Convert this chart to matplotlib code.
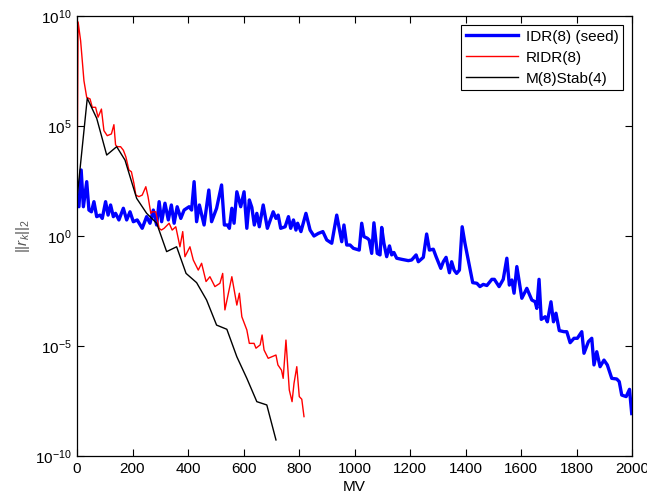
import numpy as np
import matplotlib
matplotlib.use('Agg')
import matplotlib.pyplot as plt
from matplotlib.ticker import FixedLocator, NullLocator, FuncFormatter

plt.rcParams['font.family'] = ['Liberation Sans', 'DejaVu Sans']
plt.rcParams['mathtext.fontset'] = 'custom'
plt.rcParams['mathtext.rm'] = 'Liberation Sans'
plt.rcParams['mathtext.it'] = 'Liberation Sans:italic'

# IDR(8) (seed): MV, log10 ||r_k||_2
idr_mv = [0, 7, 15, 23, 35, 43, 52, 61, 71, 83, 91, 103, 112, 121, 131, 139, 151, 167, 179, 191,
          203, 217, 235, 251, 263, 275, 287, 296, 305, 317, 329, 340, 350, 361, 374, 386, 404, 413,
          422, 431, 441, 458, 475, 485, 503, 521, 531, 542, 549, 558, 566, 576, 590, 602, 612, 621,
          630, 639, 648, 657, 671, 686, 707, 717, 725, 734, 750, 762, 770, 780, 789, 795, 807, 825,
          840, 854, 870, 886, 900, 918, 936, 954, 962, 972, 984, 996, 1017, 1026, 1034, 1046, 1053,
          1062, 1070, 1082, 1092, 1098, 1106, 1116, 1126, 1134, 1142, 1152, 1170, 1194, 1206, 1222,
          1230, 1248, 1260, 1270, 1284, 1294, 1311, 1320, 1330, 1342, 1350, 1359, 1368, 1378, 1388,
          1398, 1410, 1426, 1441, 1452, 1464, 1477, 1495, 1504, 1521, 1536, 1549, 1558, 1567, 1575,
          1585, 1603, 1621, 1639, 1651, 1657, 1665, 1673, 1687, 1695, 1708, 1717, 1726, 1738, 1755,
          1765, 1777, 1791, 1803, 1819, 1827, 1843, 1855, 1863, 1873, 1885, 1899, 1911, 1927, 1945,
          1954, 1963, 1979, 1991, 1999]
idr_log = [1.41, 1.33, 3.0, 1.33, 2.47, 1.18, 1.1, 1.56, 0.88, 0.95, 0.8, 1.56, 0.95, 1.41, 0.88,
           1.03, 0.73, 1.26, 0.73, 1.1, 0.65, 0.73, 0.35, 0.88, 0.58, 1.18, 0.5, 1.56, 0.65, 1.49,
           0.73, 1.41, 0.58, 1.33, 0.8, 1.18, 1.33, 1.18, 2.47, 0.65, 1.41, 0.5, 2.09, 0.65, 1.26,
           2.32, 0.5, 0.5, 0.35, 1.26, 0.58, 2.01, 1.33, 2.01, 0.35, 1.64, 1.3, 0.5, 1.03, 0.42,
           1.41, 0.35, 1.1, 0.8, 0.95, 0.35, 0.42, 0.88, 0.35, 0.73, 0.27, 0.58, 0.2, 1.03, 0.27,
           0.0, 0.12, 0.2, -0.18, -0.33, 0.95, -0.26, 0.5, -0.41, -0.41, -0.56, -0.64, 0.58, -0.03,
           -0.1, -0.18, -0.79, 0.6, -0.79, -0.86, 0.39, -0.33, -0.94, -0.45, -0.86, -0.75, -1.01,
           -1.06, -1.12, -1.09, -0.86, -1.17, -0.97, 0.09, -0.64, -0.6, -0.94, -1.47, -1.17, -0.97,
           -1.67, -1.17, -1.55, -1.7, -1.55, 0.42, -0.33, -1.09, -2.12, -2.15, -2.3, -2.2, -2.25,
           -1.97, -1.97, -2.3, -1.97, -1.01, -2.23, -2.0, -2.6, -1.39, -2.83, -2.38, -2.91, -2.99,
           -3.29, -1.97, -3.79, -3.67, -3.9, -2.99, -3.9, -3.51, -4.3, -4.35, -4.35, -4.85, -4.65,
           -4.65, -4.35, -5.33, -4.8, -4.65, -5.86, -5.26, -5.94, -5.64, -5.86, -6.47, -6.5, -6.62,
           -7.23, -7.3, -6.97, -8.07]

# RIDR(8)
ridr_mv = [0, 4, 13, 25, 35, 47, 55, 67, 76, 88, 97, 109, 124, 133, 139, 145, 157, 167, 176, 187,
           196, 205, 212, 223, 235, 248, 256, 266, 271, 284, 296, 304, 314, 332, 343, 356, 371, 381,
           389, 407, 419, 437, 449, 465, 479, 497, 515, 525, 533, 558, 576, 585, 594, 612, 621, 638,
           645, 660, 667, 674, 689, 702, 717, 724, 737, 743, 753, 765, 775, 782, 792, 801, 810, 818]
ridr_log = [1.5, 9.73, 8.88, 7.06, 6.3, 6.23, 5.85, 5.85, 5.4, 5.77, 4.79, 4.56, 4.64, 5.06, 4.14,
            4.06, 4.06, 3.9, 3.6, 3.0, 2.92, 2.4, 1.86, 1.79, 1.86, 2.24, 1.79, 1.03, 1.1, 1.1, 0.35,
            0.27, 0.35, 0.58, 0.27, 0.42, -0.49, 0.2, -0.94, -0.49, -1.09, -1.55, -1.24, -2.07,
            -1.85, -2.3, -2.15, -1.7, -3.36, -1.85, -3.14, -2.6, -3.67, -4.27, -4.88, -4.88, -5.1,
            -4.95, -4.5, -5.18, -5.56, -5.49, -5.41, -5.86, -6.1, -6.47, -4.73, -7.0, -7.53, -6.7,
            -5.94, -7.3, -7.42, -8.21]

# M(8)Stab(4)
mstab_mv = [0, 37, 71, 107, 143, 173, 215, 251, 287, 323, 359, 393, 431, 467, 503, 540, 576, 612,
            648, 684, 717]
mstab_log = [1.7, 6.26, 5.35, 3.68, 4.06, 3.45, 1.71, 1.03, 0.58, -0.71, -0.49, -1.7, -2.12, -2.91,
             -4.05, -4.24, -5.49, -6.47, -7.53, -7.68, -9.27]

fig = plt.figure(figsize=(6.47, 4.99), dpi=100)
ax = fig.add_axes([77 / 647, 43 / 499, 555 / 647, 440 / 499])

ax.semilogy(idr_mv, 10.0 ** np.array(idr_log), color='#0000ff', lw=2.4, label='IDR(8) (seed)')
ax.semilogy(ridr_mv, 10.0 ** np.array(ridr_log), color='#ff0000', lw=1.0, label='RIDR(8)')
ax.semilogy(mstab_mv, 10.0 ** np.array(mstab_log), color='black', lw=1.0, label='M(8)Stab(4)')

ax.set_xlim(0, 2000)
ax.set_ylim(1e-10, 1e10)
ax.set_xticks(np.arange(0, 2001, 200))
ax.yaxis.set_major_locator(FixedLocator([1e-10, 1e-5, 1e0, 1e5, 1e10]))
ax.yaxis.set_minor_locator(NullLocator())
ax.yaxis.set_major_formatter(FuncFormatter(lambda v, p: r'$\mathregular{10^{%d}}$' % round(np.log10(v))))
ax.tick_params(direction='in', top=True, right=True, length=5, width=0.8, labelsize=11, pad=4)
for s in ax.spines.values():
    s.set_linewidth(0.9)

ax.set_xlabel('MV', fontsize=11, labelpad=3)
ax.set_ylabel(r'$||r_k||_2$', fontsize=11, color='#555555', labelpad=2)

leg = ax.legend(loc='upper right', fontsize=11, fancybox=False, framealpha=1, edgecolor='black',
                handlelength=3.4, handletextpad=0.5, borderaxespad=0.6, labelspacing=0.45,
                borderpad=0.3)
leg.get_frame().set_linewidth(0.8)

fig.savefig('out.png', dpi=100)
